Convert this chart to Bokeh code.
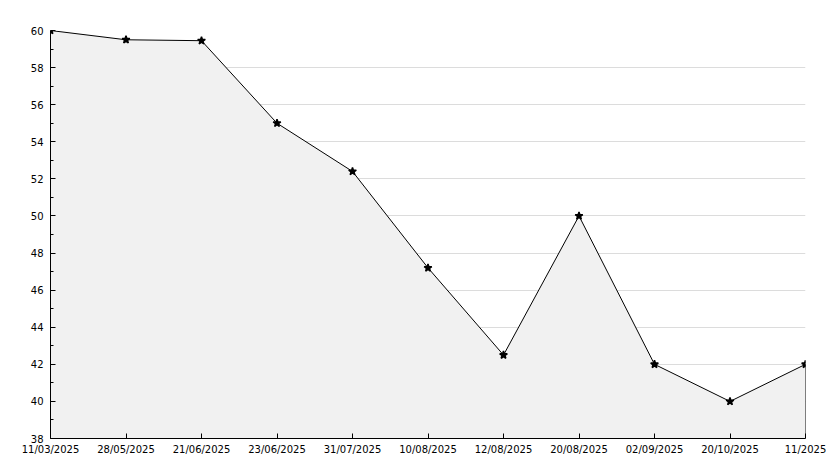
from bokeh.plotting import figure
from bokeh.models import Range1d, FixedTicker, ColumnDataSource
from bokeh.embed import file_html
from bokeh.resources import INLINE

dates = ["11/03/2025", "28/05/2025", "21/06/2025", "23/06/2025", "31/07/2025",
         "10/08/2025", "12/08/2025", "20/08/2025", "02/09/2025", "20/10/2025", "11/2025"]
values = [60, 59.5, 59.45, 55.0, 52.4, 47.2, 42.5, 50.0, 42.0, 40.0, 42.0]
y_ticks = [38, 40, 42, 44, 46, 48, 50, 52, 54, 56, 58, 60]

xs = list(range(len(dates)))
src = ColumnDataSource(dict(x=xs, y=values, base=[38] * len(xs)))

p = figure(width=826, height=460, output_backend="svg", toolbar_location=None,
           x_range=Range1d(0, len(dates) - 1), y_range=Range1d(38, 60),
           min_border_left=50, min_border_right=21, min_border_top=30, min_border_bottom=22)
p.outline_line_color = None
p.background_fill_color = "white"

p.varea(x="x", y1="base", y2="y", source=src, fill_color="#f1f1f1")
p.line(x="x", y="y", source=src, line_color="black", line_width=1)
p.segment(x0=[xs[-1]], y0=[38], x1=[xs[-1]], y1=[values[-1]], line_color="black", line_width=1)
p.scatter(x="x", y="y", source=src, marker="star", size=8, fill_color="black", line_color="black", line_width=1.5)

p.xgrid.visible = False
p.ygrid.grid_line_color = "#dcdcdc"
p.ygrid.ticker = FixedTicker(ticks=y_ticks)

p.xaxis.ticker = FixedTicker(ticks=xs)
p.xaxis.major_label_overrides = {i: d for i, d in enumerate(dates)}
p.yaxis.ticker = FixedTicker(ticks=y_ticks, minor_ticks=[v + 1 for v in y_ticks[:-1]])

for ax in (p.xaxis[0], p.yaxis[0]):
    ax.axis_line_color = "black"
    ax.major_tick_line_color = "black"
    ax.minor_tick_line_color = "black"
    ax.major_tick_in = 5
    ax.major_tick_out = 0
    ax.minor_tick_in = 3
    ax.minor_tick_out = 0
    ax.major_label_text_font = "DejaVu Sans"
    ax.major_label_text_font_size = "10px"
    ax.major_label_text_color = "black"
p.xaxis.minor_tick_line_color = None
p.yaxis.major_label_standoff = 7
p.xaxis.major_label_standoff = 5

open("out.html", "w").write(file_html(p, INLINE))
